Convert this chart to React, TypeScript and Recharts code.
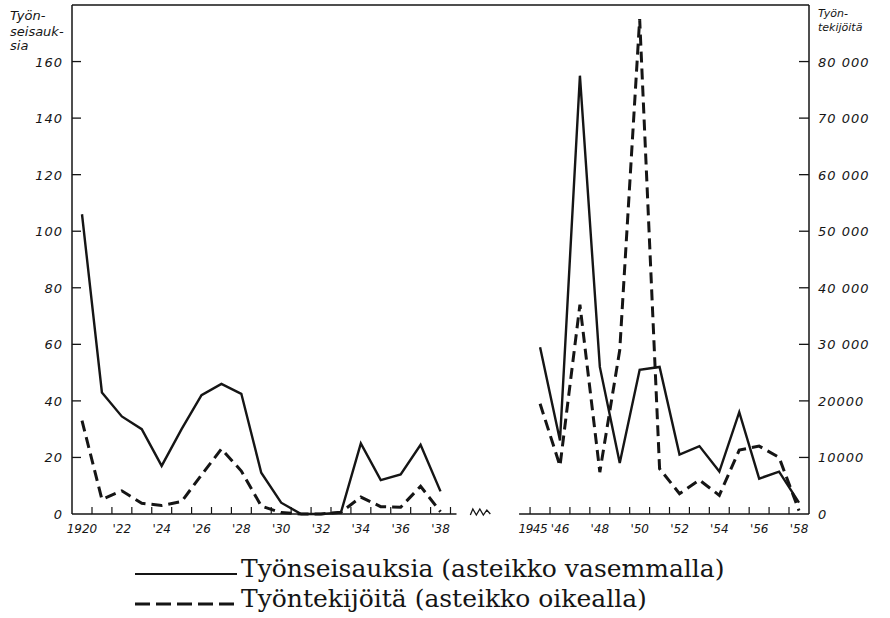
import React from 'react';
import { LineChart, Line, XAxis, YAxis, ReferenceLine } from 'recharts';

// Years before and after the war (the axis is broken between them)
const yearsBefore = [1920, 1921, 1922, 1923, 1924, 1925, 1926, 1927, 1928, 1929, 1930, 1931, 1932, 1933, 1934, 1935, 1936, 1937, 1938];
const strikesBefore = [106, 43, 34.5, 30, 17, 30, 42, 46, 42.5, 14.6, 4, 0, 0, 0.5, 25, 12, 14, 24.5, 8];
const workersBefore = [16500, 2600, 4100, 1900, 1500, 2200, 6900, 11500, 7600, 1400, 250, 0, 0, 300, 3000, 1300, 1200, 4900, 400];

const yearsAfter = [1945, 1946, 1947, 1948, 1949, 1950, 1951, 1952, 1953, 1954, 1955, 1956, 1957, 1958];
const strikesAfter = [59, 26, 155, 52, 18, 51, 52, 21, 24, 15, 36, 12.5, 15, 4];
const workersAfter = [19500, 8500, 37000, 7400, 29000, 87500, 8000, 3600, 6000, 3300, 11300, 12000, 10000, 600];

const labelledYears = [1920, 1922, 1924, 1926, 1928, 1930, 1932, 1934, 1936, 1938, 1945, 1946, 1948, 1950, 1952, 1954, 1956, 1958];
const gapSlots = 4;

const leftTicks = [0, 20, 40, 60, 80, 100, 120, 140, 160];
const rightTicks = [0, 10000, 20000, 30000, 40000, 50000, 60000, 70000, 80000];
const rightTickLabels = ['0', '10000', '20000', '30 000', '40 000', '50 000', '60 000', '70 000', '80 000'];

const INK = '#151515';
const AXIS_FONT = '"DejaVu Sans", sans-serif';

type Row = {
  key: string;
  year: number | null;
  era: 'a' | 'gap' | 'b';
  gapIndex: number;
  strikes: number | null;
  workers: number | null;
};

const data: Row[] = [
  ...yearsBefore.map((y, i) => ({ key: String(y), year: y, era: 'a' as const, gapIndex: -1, strikes: strikesBefore[i], workers: workersBefore[i] })),
  ...Array.from({ length: gapSlots }, (_, i) => ({ key: `gap${i}`, year: null, era: 'gap' as const, gapIndex: i, strikes: null, workers: null })),
  ...yearsAfter.map((y, i) => ({ key: String(y), year: y, era: 'b' as const, gapIndex: -1, strikes: strikesAfter[i], workers: workersAfter[i] })),
];

const yearLabel = (y: number) => (y === 1920 || y === 1945 ? String(y) : `'${String(y).slice(2)}`);

const XTick = (props: any) => {
  const { x, y, payload } = props;
  const row = data.find((r) => r.key === payload.value);
  if (!row) return null;
  if (row.era === 'gap') {
    if (row.gapIndex !== 1) return null;
    const zig = [[-10, 1], [-7.5, -5], [-4, 1], [-0.5, -5], [3, 1], [6.5, -4], [10, 0]]
      .map(([dx, dy]) => `${x + dx},${y + dy}`)
      .join(' ');
    return <polyline points={zig} fill="none" stroke={INK} strokeWidth={1.3} />;
  }
  const half = 10;
  let x1 = x - half;
  let x2 = x + half;
  if (row.year === yearsBefore[yearsBefore.length - 1]) x2 = x + 16;
  if (row.year === yearsAfter[0]) x1 = x - 21;
  const tickX = row.era === 'a' ? x + half : x - half;
  // 1945 sits right against '46, as in the printed original
  const isFirstAfter = row.year === yearsAfter[0];
  return (
    <g>
      <line x1={x1} x2={x2} y1={y} y2={y} stroke={INK} strokeWidth={1.5} />
      <line x1={tickX} x2={tickX} y1={y} y2={y - 7} stroke={INK} strokeWidth={1.2} />
      {labelledYears.includes(row.year as number) && (
        <text
          x={isFirstAfter ? x + 7 : x}
          y={y + 19}
          textAnchor={isFirstAfter ? 'end' : 'middle'}
          fontFamily={AXIS_FONT}
          fontStyle="italic"
          fontSize={12}
          letterSpacing={isFirstAfter ? -0.5 : 0}
          fill={INK}
        >
          {yearLabel(row.year as number)}
        </text>
      )}
    </g>
  );
};

const LeftTick = (props: any) => {
  const { x, y, payload } = props;
  return (
    <g>
      {payload.value !== 0 && <line x1={x} x2={x + 9} y1={y} y2={y} stroke={INK} strokeWidth={1.3} />}
      <text x={x - 9} y={y + 5} textAnchor="end" fontFamily={AXIS_FONT} fontStyle="italic" fontSize={13} letterSpacing={1} fill={INK}>
        {payload.value}
      </text>
    </g>
  );
};

const RightTick = (props: any) => {
  const { x, y, payload } = props;
  const idx = rightTicks.indexOf(payload.value);
  return (
    <g>
      {payload.value !== 0 && <line x1={x - 10} x2={x} y1={y} y2={y} stroke={INK} strokeWidth={1.3} />}
      <text x={x + 9} y={y + 5} textAnchor="start" fontFamily={AXIS_FONT} fontStyle="italic" fontSize={13} letterSpacing={1} fill={INK}>
        {rightTickLabels[idx]}
      </text>
    </g>
  );
};

const titleStyle: React.CSSProperties = {
  fontFamily: AXIS_FONT,
  fontStyle: 'italic',
  fill: INK,
};

export default function App() {
  return (
    <div style={{ position: 'absolute', left: 0, top: 0, width: 890, height: 618, background: '#fff' }}>
      <LineChart width={890} height={618} data={data} margin={{ top: 5, right: 0, bottom: 0, left: 0 }}>
        <XAxis
          dataKey="key"
          type="category"
          interval={0}
          padding={{ left: 10, right: 10 }}
          height={104}
          tickSize={0}
          tickMargin={0}
          tickLine={false}
          axisLine={false}
          tick={<XTick />}
        />
        <YAxis
          yAxisId="left"
          orientation="left"
          width={72}
          domain={[0, 180]}
          ticks={leftTicks}
          tickSize={0}
          tickMargin={0}
          tickLine={false}
          axisLine={{ stroke: INK, strokeWidth: 1.5 }}
          tick={<LeftTick />}
        />
        <YAxis
          yAxisId="right"
          orientation="right"
          width={81}
          domain={[0, 90000]}
          ticks={rightTicks}
          tickSize={0}
          tickMargin={0}
          tickLine={false}
          axisLine={{ stroke: INK, strokeWidth: 1.5 }}
          tick={<RightTick />}
        />
        <ReferenceLine yAxisId="left" y={180} stroke={INK} strokeWidth={1.5} />
        <Line
          yAxisId="left"
          type="linear"
          dataKey="strikes"
          stroke={INK}
          strokeWidth={2.4}
          dot={false}
          activeDot={false}
          isAnimationActive={false}
        />
        <Line
          yAxisId="right"
          type="linear"
          dataKey="workers"
          stroke={INK}
          strokeWidth={3}
          strokeDasharray="11 6"
          dot={false}
          activeDot={false}
          isAnimationActive={false}
        />
      </LineChart>

      <svg width={890} height={618} style={{ position: 'absolute', left: 0, top: 0, pointerEvents: 'none' }}>
        <g style={titleStyle} fontSize={13}>
          <text x={10} y={20}>Työn-</text>
          <text x={10} y={36}>seisauk-</text>
          <text x={10} y={50}>sia</text>
        </g>
        <g style={titleStyle} fontSize={11}>
          <text x={818} y={17}>Työn-</text>
          <text x={818} y={31}>tekijöitä</text>
        </g>
        <line x1={135} x2={237} y1={574} y2={574} stroke={INK} strokeWidth={2} />
        <text x={241} y={577} fontFamily='"DejaVu Serif", serif' fontSize={25} fill={INK}>
          Työnseisauksia (asteikko vasemmalla)
        </text>
        <line x1={135} x2={237} y1={604} y2={604} stroke={INK} strokeWidth={3} strokeDasharray="15 6" />
        <text x={241} y={607} fontFamily='"DejaVu Serif", serif' fontSize={25} fill={INK}>
          Työntekijöitä (asteikko oikealla)
        </text>
      </svg>
    </div>
  );
}
